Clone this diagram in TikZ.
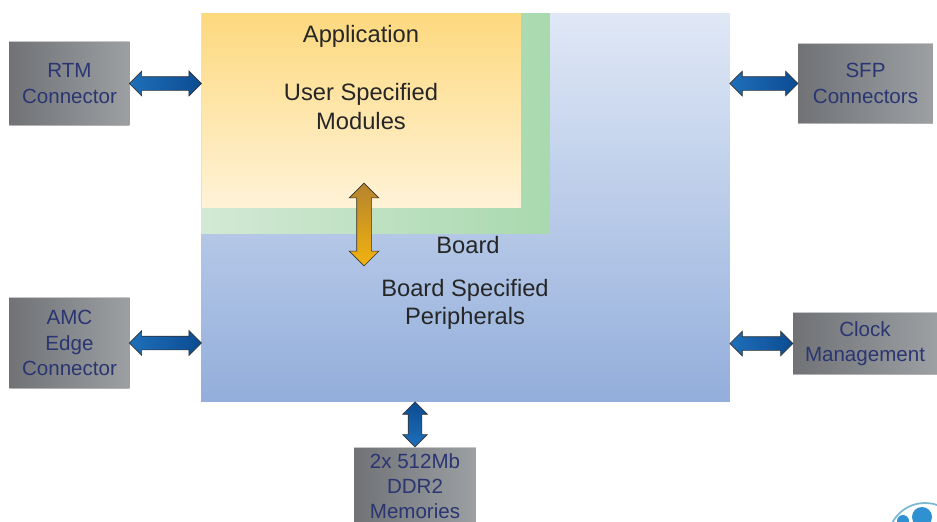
\documentclass[tikz,border=0pt]{standalone}
\usepackage{fontspec}
\setmainfont{Liberation Sans}
\usetikzlibrary{shapes,arrows,positioning}
\definecolor{labelblue}{HTML}{2A3572}
\definecolor{labeldark}{HTML}{262626}
\definecolor{boardtop}{HTML}{E0E8F6}
\definecolor{boardbot}{HTML}{93AEDB}
\definecolor{shellleft}{HTML}{D3E9D5}
\definecolor{shellright}{HTML}{A9D9AE}
\definecolor{apptop}{HTML}{FDD97E}
\definecolor{appbot}{HTML}{FFF3D8}
\definecolor{greyleft}{HTML}{707276}
\definecolor{greyright}{HTML}{9CA0A3}
\definecolor{linkbright}{HTML}{1F6FBA}
\definecolor{linkdeep}{HTML}{0B4C92}
\definecolor{bustop}{HTML}{B5832E}
\definecolor{busbot}{HTML}{F2B30F}
\definecolor{logoring}{HTML}{7DB7D2}
\definecolor{logodot}{HTML}{2F90D2}
\tikzset{basic/.style={inner sep=0pt,outer sep=0pt,align=center}}
\tikzset{iobox/.style={basic,left color=greyleft,right color=greyright,text=labelblue,font=\fontsize{11.7}{14.4}\selectfont,
  path picture={\draw[black!22,line width=1.6pt] (path picture bounding box.north west) -- (path picture bounding box.north east);
                \draw[black!30,line width=1pt] (path picture bounding box.south west) -- (path picture bounding box.south east);}}}
\tikzset{layer/.style={basic}}
\tikzset{msg/.style={basic,text=labeldark,font=\fontsize{13.5}{16.2}\selectfont}}
\tikzset{arrow/.style={double arrow,draw=black!80,line width=0.4pt,inner sep=0.13cm,outer sep=0pt,double arrow head extend=0.11cm,double arrow tip angle=90,double arrow head indent=0pt}}
\tikzset{hlink/.style={arrow,left color=linkbright,right color=linkdeep}}
\tikzset{vlink/.style={arrow,shape border rotate=90,top color=linkdeep,bottom color=linkbright}}
\begin{document}
\begin{tikzpicture}[x=0.02cm,y=-0.02cm]
    \useasboundingbox (0,0) rectangle (937,521);

    \node[layer,top color=boardtop,bottom color=boardbot,minimum width=10.58cm,minimum height=7.78cm] (board) at (465.5,207.5) {};
    \node[layer,left color=shellleft,right color=shellright,minimum width=6.98cm,minimum height=4.42cm] (shell) at (375.5,123.5) {};
    \node[layer,top color=apptop,bottom color=appbot,minimum width=6.38cm,minimum height=3.9cm] (app) at (361.5,110.5) {};

    \node[iobox,minimum width=2.4cm,minimum height=1.7cm,text depth=0pt] (rtm) at (69.5,83.5) {RTM\\Connector};
    \node[iobox,minimum width=2.4cm,minimum height=1.84cm] (amc) at (69.5,343) {AMC\\Edge\\Connector};
    \node[iobox,minimum width=2.7cm,minimum height=1.62cm] (sfp) at (865.5,83.5) {SFP\\Connectors};
    \node[iobox,minimum width=2.88cm,minimum height=1.26cm] (clock) at (865,343.5) {Clock\\Management};
    \node[iobox,minimum width=2.44cm,minimum height=1.56cm] (ddr) at (415,486) {2x 512Mb\\DDR2\\Memories};

    \node[msg] (apptitle) at (361,36) {Application};
    \node[msg] (appbody) at (361,106.5) {User Specified\\Modules};
    \node[msg] (boardtitle) at (468,245) {Board};
    \node[msg] (boardbody) at (465,304.5) {Board Specified\\Peripherals};

    \path (rtm.east) -- node[hlink,minimum height=1.44cm] (rtmlink) {} (board.west |- rtm.east);
    \path (amc.east) -- node[hlink,minimum height=1.44cm] (amclink) {} (board.west |- amc.east);
    \path (board.east |- sfp.west) -- node[hlink,minimum height=1.36cm] (sfplink) {} (sfp.west);
    \path (board.east |- clock.west) -- node[hlink,minimum height=1.26cm] (clocklink) {} (clock.west);
    \path (board.south -| ddr.north) -- node[vlink,minimum height=0.9cm] (ddrlink) {} (ddr.north);

    \coordinate (apptap) at (364,183);
    \coordinate (boardtap) at (364,266);
    \path (apptap) -- node[arrow,shape border rotate=90,inner sep=0.14cm,minimum height=1.66cm,double arrow head extend=0.15cm,top color=bustop,bottom color=busbot] (buslink) {} (boardtap);

    % logo in the corner
    \draw[logoring,line width=1pt] (925,540) circle (37);
    \fill[logodot] (903,521) circle (6);
    \fill[logodot] (922,517) circle (10);
\end{tikzpicture}
\end{document}
